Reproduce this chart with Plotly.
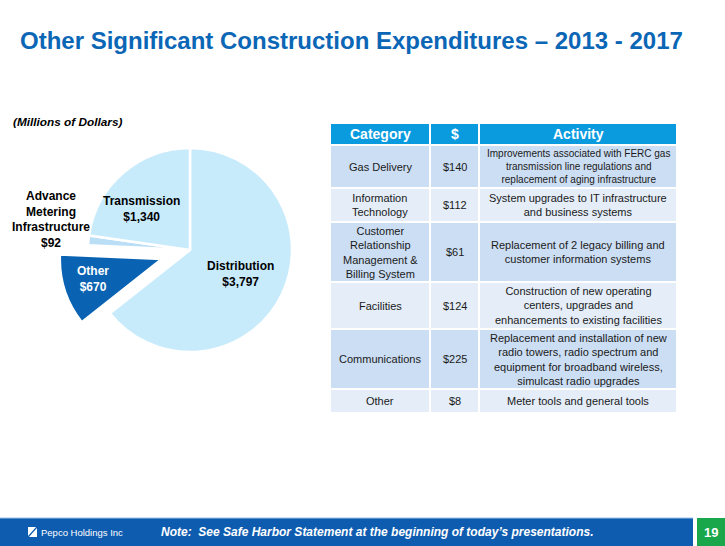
import plotly.graph_objects as go

# ---------------- data ----------------
pie_labels = ["Distribution", "Other", "Advance Metering Infrastructure", "Transmission"]
pie_values = [3797, 670, 92, 1340]

tbl_headers = ["Category", "$", "Activity"]
tbl_categories = ["Gas Delivery", "Information<br>Technology",
                  "Customer<br>Relationship<br>Management &<br>Billing System",
                  "Facilities", "Communications", "Other"]
tbl_amounts = [140, 112, 61, 124, 225, 8]
tbl_activities = [
    "Improvements associated with FERC gas<br>transmission line regulations and<br>replacement of aging infrastructure",
    "System upgrades to IT infrastructure<br>and business systems",
    "Replacement of 2 legacy billing and<br>customer information systems",
    "Construction of new operating<br>centers, upgrades and<br>enhancements to existing facilities",
    "Replacement and installation of new<br>radio towers, radio spectrum and<br>equipment for broadband wireless,<br>simulcast radio upgrades",
    "Meter tools and general tools",
]

W, H = 725, 546
FONT = "Liberation Sans, Arial, sans-serif"

def px(x):
    return x / W

def py(y):
    return 1 - y / H

fig = go.Figure()

# ---------------- pie ----------------
pie_colors = ["#C8EBFC", "#0A63B2", "#B9DEF6", "#C8EBFC"]
fig.add_trace(go.Pie(
    labels=pie_labels, values=pie_values, sort=False, direction="clockwise",
    rotation=0, pull=[0, 0.29, 0.0, 0.0], textinfo="none", hoverinfo="label+value",
    marker=dict(colors=pie_colors, line=dict(color="white", width=2.5)),
    domain=dict(x=[px(58.4), px(321.6)], y=[py(381.6), py(118.4)]),
    showlegend=False,
))

def lbl(i):
    name = pie_labels[i].replace(" ", "<br>") if i == 2 else pie_labels[i]
    return f"<b>{name}<br>${pie_values[i]:,}</b>"

label_pos = [(240, 274, "black"), (93, 279, "white"), (51, 219, "black"), (141, 209, "black")]
annotations = []
for i, (x, y, c) in enumerate(label_pos):
    annotations.append(dict(x=px(x), y=py(y), xref="paper", yref="paper", text=lbl(i),
                            showarrow=False, font=dict(family=FONT, size=12, color=c),
                            xanchor="center", yanchor="middle"))

# ---------------- table (cells drawn as bars on hidden axes) ----------------
TBL_LEFT, TBL_TOP = 330, 123
col_widths = [100, 49, 198]
header_h = 22
row_font = [10, 11, 11, 11, 11, 11]
LINE_EM, ROW_PAD, ROW_MIN = 1.21, 7, 24

def nlines(s):
    return s.count("<br>") + 1

row_h = []
for cat, act, fs in zip(tbl_categories, tbl_activities, row_font):
    n = max(nlines(cat), nlines(act))
    row_h.append(max(ROW_MIN, round(n * fs * LINE_EM + ROW_PAD)))

heights = [header_h] + row_h
centers = []
acc = 0
for h in heights:
    centers.append(acc + h / 2)
    acc += h
total_h = acc
total_w = sum(col_widths)
col_left = [sum(col_widths[:i]) for i in range(len(col_widths))]

row_fill = ["#CCDEF3" if i % 2 == 0 else "#E4EDF8" for i in range(len(tbl_categories))]
cell_colors = ["#0A9BDF"] + row_fill
columns_text = [tbl_categories, [f"${v}" for v in tbl_amounts], tbl_activities]

for j, w in enumerate(col_widths):
    fig.add_trace(go.Bar(
        orientation="h", y=centers, x=[w] * len(heights), base=[col_left[j]] * len(heights),
        width=heights, marker=dict(color=cell_colors, line=dict(color="white", width=2)),
        hoverinfo="skip", showlegend=False, xaxis="x", yaxis="y",
    ))
    annotations.append(dict(x=col_left[j] + w / 2, y=centers[0], xref="x", yref="y",
                            text=f"<b>{tbl_headers[j]}</b>", showarrow=False,
                            font=dict(family=FONT, size=14, color="white"),
                            xanchor="center", yanchor="middle"))
    for r, txt in enumerate(columns_text[j]):
        annotations.append(dict(x=col_left[j] + w / 2, y=centers[r + 1], xref="x", yref="y",
                                text=txt, showarrow=False, align="center",
                                font=dict(family=FONT, size=row_font[r] if j == 2 else 11,
                                          color="#1a1a1a"),
                                xanchor="center", yanchor="middle"))

# ---------------- titles & footer ----------------
annotations.append(dict(x=px(18), y=py(41), xref="paper", yref="paper",
                        text="<b>Other Significant Construction Expenditures \u2013 2013 - 2017</b>",
                        showarrow=False, xanchor="left", yanchor="middle",
                        font=dict(family=FONT, size=24, color="#0B66B6")))
annotations.append(dict(x=px(11), y=py(122), xref="paper", yref="paper",
                        text="<b><i>(Millions of Dollars)</i></b>",
                        showarrow=False, xanchor="left", yanchor="middle",
                        font=dict(family=FONT, size=11.8, color="black")))
annotations.append(dict(x=px(159), y=py(532), xref="paper", yref="paper",
                        text="<b><i>Note:  See Safe Harbor Statement at the beginning of today\u2019s presentations.</i></b>",
                        showarrow=False, xanchor="left", yanchor="middle",
                        font=dict(family=FONT, size=12, color="white")))
annotations.append(dict(x=px(39), y=py(532), xref="paper", yref="paper",
                        text="Pepco Holdings Inc", showarrow=False, xanchor="left", yanchor="middle",
                        font=dict(family=FONT, size=9.5, color="white")))
annotations.append(dict(x=px(711), y=py(532), xref="paper", yref="paper",
                        text="<b>19</b>", showarrow=False, xanchor="center", yanchor="middle",
                        font=dict(family=FONT, size=13, color="white")))

shapes = [
    dict(type="rect", xref="paper", yref="paper", x0=px(0), x1=px(693), y0=py(546), y1=py(518),
         fillcolor="#0E5CB0", line=dict(width=0), layer="below"),
    dict(type="line", xref="paper", yref="paper", x0=px(0), x1=px(693), y0=py(518), y1=py(518),
         line=dict(color="#9CC3EA", width=1)),
    dict(type="rect", xref="paper", yref="paper", x0=px(697), x1=px(725), y0=py(546), y1=py(518),
         fillcolor="#1AA64B", line=dict(width=0), layer="below"),
    dict(type="rect", xref="paper", yref="paper", x0=px(28), x1=px(37), y0=py(537), y1=py(527),
         fillcolor="white", line=dict(width=0)),
    dict(type="line", xref="paper", yref="paper", x0=px(28), x1=px(37), y0=py(537), y1=py(527),
         line=dict(color="#0E5CB0", width=1.2)),
]

fig.update_layout(
    width=W, height=H, margin=dict(l=0, r=0, t=0, b=0),
    paper_bgcolor="white", plot_bgcolor="rgba(0,0,0,0)",
    annotations=annotations, shapes=shapes, barmode="overlay",
    font=dict(family=FONT), dragmode=False,
    xaxis=dict(domain=[px(TBL_LEFT), px(TBL_LEFT + total_w)], range=[0, total_w],
               visible=False, fixedrange=True),
    yaxis=dict(domain=[py(TBL_TOP + total_h), py(TBL_TOP)], range=[total_h, 0],
               visible=False, fixedrange=True),
)

fig.write_html("out.html", post_script="document.body.style.margin='0';",
               config={"displayModeBar": False})
